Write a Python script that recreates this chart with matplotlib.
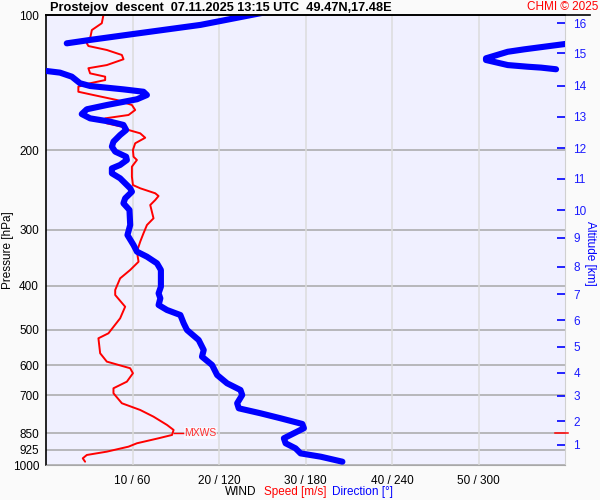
import numpy as np
import matplotlib
matplotlib.use("Agg")
import matplotlib.pyplot as plt
from matplotlib.transforms import blended_transform_factory

plt.rcParams['font.family'] = ['Liberation Sans', 'DejaVu Sans']

# ---- data ----
# wind speed profile [m/s] vs pressure [hPa]
speed_p = [100.0, 104.3, 108.0, 112.7, 115.6, 117.2, 119.6, 122.7, 125.4, 129.2,
           131.3, 134.8, 137.1, 139.5, 141.8, 144.3, 148.1, 150.6, 154.5, 158.5,
           162.6, 166.8, 169.7, 174.1, 177.1, 180.1, 183.2, 187.4, 192.8, 199.5,
           206.5, 210.0, 217.3, 228.7, 238.7, 242.7, 249.0, 252.5, 257.7, 264.4,
           283.0, 292.9, 305.6, 319.0, 335.7, 353.4, 368.7, 384.8, 408.4, 419.0,
           444.9, 472.1, 509.7, 522.9, 564.5, 589.2, 609.5, 625.3, 652.8, 675.3,
           692.8, 729.1, 754.6, 780.9, 814.7, 835.8, 857.5, 872.2, 894.8, 910.4,
           934.0, 950.0, 966.3, 983.3]
speed_v = [6.64, 6.45, 5.30, 5.10, 4.72, 4.90, 7.03, 8.77, 8.96, 7.03,
           4.90, 5.10, 6.84, 6.84, 5.10, 3.74, 3.74, 5.48, 8.19, 9.93,
           10.31, 9.54, 6.84, 7.03, 8.77, 9.54, 10.89, 11.47, 10.31, 10.05,
           10.12, 10.51, 9.93, 9.93, 10.05, 10.89, 12.63, 13.01, 12.63, 12.05,
           12.43, 11.67, 11.27, 10.89, 10.51, 10.70, 9.73, 8.57, 8.00, 8.00,
           9.15, 8.57, 7.22, 6.06, 6.26, 7.03, 9.73, 10.05, 9.35, 7.80,
           7.80, 8.77, 10.89, 12.43, 13.99, 14.75, 14.57, 13.01, 10.51, 9.54,
           7.03, 4.72, 4.25, 4.52]

# wind direction profile [deg] vs pressure [hPa]
dir_p = [98.5, 105.2, 110.2, 113.6, 115.6,
         116.0, 119.2, 120.7, 124.8, 125.9, 129.2, 130.3, 130.9, 132.0,
         133.2, 134.3, 137.1, 141.8, 143.8, 146.3, 148.1, 150.6, 153.9, 158.5,
         162.0, 166.0, 169.7, 172.6, 175.5, 180.1, 184.8, 191.2, 196.1, 201.2,
         206.5, 210.0, 215.4, 219.2, 224.8, 230.6, 242.7, 247.0, 255.5, 262.1,
         271.2, 292.9, 308.3, 324.4, 335.7, 344.4, 356.3, 368.7, 401.6, 415.4,
         426.2, 441.0, 452.4, 464.2, 484.2, 501.2, 527.5, 555.2, 574.5, 599.5,
         631.0, 658.3, 681.3, 699.0, 729.1, 748.2, 767.5, 787.4, 810.6, 828.5,
         850.2, 872.2, 894.8, 918.3, 942.3, 958.3, 983.3]
dir_v = [152.9, 107.1, 60.7, 30.6, 14.4,
         360.0, 331.8, 320.3, 305.2, 305.2, 320.3, 334.2, 343.4, 353.8,
         0.5, 9.7, 17.9, 23.6, 30.6, 53.7, 67.6, 70.0, 63.1, 42.2,
         28.3, 24.8, 30.6, 44.5, 53.7, 55.6, 51.4, 46.8, 45.7, 48.0,
         55.6, 56.1, 51.4, 45.7, 45.7, 51.4, 58.4, 59.6, 54.9, 53.7,
         57.9, 58.4, 56.5, 60.7, 63.1, 70.0, 77.0, 79.7, 79.7, 78.1,
         79.3, 78.1, 83.9, 93.2, 95.5, 97.8, 105.9, 109.4, 108.2, 115.2,
         118.7, 125.6, 134.9, 136.1, 132.6, 133.7, 148.8, 162.7, 177.8, 178.9,
         171.9, 165.0, 166.2, 173.1, 176.6, 190.5, 205.6]

p_ticks = [100, 200, 300, 400, 500, 600, 700, 850, 925, 1000]
x_ticks = [10, 20, 30, 40, 50]
x_ticklabels = ["10 / 60", "20 / 120", "30 / 180", "40 / 240", "50 / 300"]
alt_km = list(range(1, 17))
alt_p = [902.6, 798.5, 702.5, 624.5, 545.5, 476.2, 416.9, 363.0, 313.0, 271.3,
         231.4, 197.5, 168.5, 143.8, 121.5, 104.2]
mxws_p = 848.0
mxws_speed = 14.75

title = "Prostejov  descent  07.11.2025 13:15 UTC  49.47N,17.48E"

# ---- figure ----
W, H = 600, 500
fig = plt.figure(figsize=(6, 5), dpi=100, facecolor='#fafafa')
L, R, T, B = 46, 565, 15, 465
ax = fig.add_axes([L / W, 1 - B / H, (R - L) / W, (B - T) / H])
ax.set_facecolor('#f0f0ff')
ax.set_yscale('log')
ax.set_ylim(1000, 100)
ax.set_xlim(0, 60)

# grid
for p in p_ticks[1:]:
    ax.axhline(p, color='#a8a8a8', lw=1.1, zorder=1)
for x in x_ticks:
    ax.axvline(x, color='#dcdcdc', lw=1.1, zorder=1)

ax.set_yticks(p_ticks)
ax.set_yticklabels([str(p) for p in p_ticks])
ax.yaxis.set_minor_locator(matplotlib.ticker.NullLocator())
ax.yaxis.set_minor_formatter(matplotlib.ticker.NullFormatter())
ax.tick_params(axis='y', length=0, pad=5, labelsize=8.5)
ax.set_xticks(x_ticks)
ax.set_xticklabels(x_ticklabels)
ax.tick_params(axis='x', length=0, pad=7, labelsize=8.5)

for s in ['top', 'left']:
    ax.spines[s].set_color('black')
    ax.spines[s].set_linewidth(1.2)
ax.spines['bottom'].set_color('#a8a8a8')
ax.spines['right'].set_color('#d0d0d0')

# speed
ax.plot(speed_v, speed_p, color='#ff0000', lw=1.4, zorder=4, solid_capstyle='round')

# direction on twin x-axis
axd = ax.twiny()
axd.set_xlim(0, 360)
axd.set_xticks([])
for s in axd.spines.values():
    s.set_visible(False)
dv = np.array(dir_v, dtype=float)
dp = np.array(dir_p, dtype=float)
brk = np.where(np.abs(np.diff(dv)) > 180)[0]
segs_v = np.split(dv, brk + 1)
segs_p = np.split(dp, brk + 1)
for sv, sp in zip(segs_v, segs_p):
    axd.plot(sv, sp, color='#0000ff', lw=4.4, solid_capstyle='round', zorder=3, clip_on=True)

# MXWS marker
ax.plot([mxws_speed, 16.0], [mxws_p, mxws_p], color='#ff0000', lw=1.0, zorder=4)
ax.text(16.0, mxws_p, "MXWS", color='#ff3030', fontsize=7.5, va='center', ha='left',
        bbox=dict(facecolor='white', edgecolor='none', alpha=0.6, pad=0.5), zorder=5)
tr = blended_transform_factory(ax.transAxes, ax.transData)
ax.plot([0.981, 1.006], [mxws_p, mxws_p], color='#ff0000', lw=1.1, transform=tr, clip_on=False, zorder=6)

# altitude axis
axa = ax.twinx()
axa.set_yscale('log')
axa.set_ylim(1000, 100)
axa.set_yticks(alt_p)
axa.set_yticklabels([str(k) for k in alt_km])
axa.yaxis.set_minor_locator(matplotlib.ticker.NullLocator())
axa.yaxis.set_minor_formatter(matplotlib.ticker.NullFormatter())
axa.tick_params(axis='y', direction='in', length=6, width=1.2, colors='#0000ff',
                labelcolor='#1a1aff', labelsize=8.5, pad=6)
for s in axa.spines.values():
    s.set_visible(False)

# texts
fig.text(50 / W, 1 - 7.5 / H, title, fontsize=9.2, fontweight='bold', ha='left', va='center')
fig.lines.append(plt.Line2D([L / W, 590 / W], [1 - T / H, 1 - T / H], color='black', lw=1.2,
                            transform=fig.transFigure))
fig.text(598 / W, 1 - 7.5 / H, "CHMI © 2025", fontsize=8.5, color='#ff0000', ha='right', va='center')
fig.text(8 / W, 1 - 250 / H, "Pressure [hPa]", fontsize=8.5, rotation=90, ha='center', va='center')
fig.text(590 / W, 1 - 253 / H, "Altitude [km]", fontsize=8.5, rotation=270, color='#0000ff',
         ha='center', va='center')
fig.text(225 / W, 1 - 492 / H, "WIND", fontsize=8.5, ha='left', va='center')
fig.text(264 / W, 1 - 492 / H, "Speed [m/s]", fontsize=8.5, color='#ff0000', ha='left', va='center')
fig.text(332 / W, 1 - 492 / H, "Direction [°]", fontsize=8.5, color='#0000ff', ha='left', va='center')

fig.savefig("out.png", dpi=100, facecolor=fig.get_facecolor())
